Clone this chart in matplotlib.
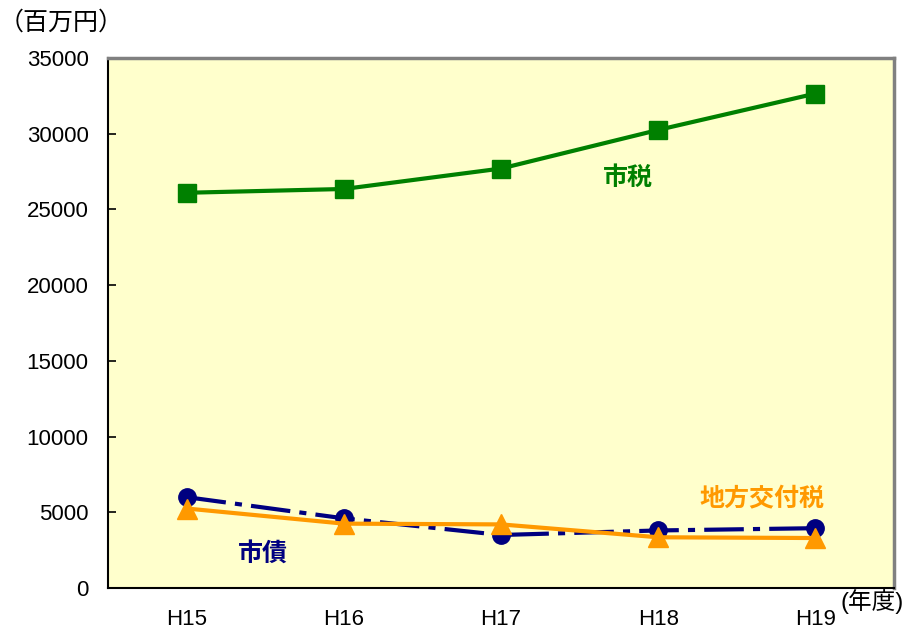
import matplotlib.pyplot as plt
import numpy as np

plt.rcParams['font.family'] = ['Liberation Sans', 'Noto Sans CJK JP', 'DejaVu Sans']

years = ['H15', 'H16', 'H17', 'H18', 'H19']
shizei = [26100, 26350, 27700, 30250, 32650]      # 市税
shisai = [6000, 4600, 3500, 3800, 3950]           # 市債
koufuzei = [5250, 4250, 4200, 3350, 3300]         # 地方交付税
yticks = [0, 5000, 10000, 15000, 20000, 25000, 30000, 35000]

GREEN = '#008000'
NAVY = '#000080'
ORANGE = '#FF9900'

fig = plt.figure(figsize=(9.12, 6.32), dpi=100)
ax = fig.add_axes([108 / 912, 44 / 632, (894 - 108) / 912, (588 - 58) / 632])
ax.set_facecolor('#FFFFCC')

x = np.arange(len(years))
ax.plot(x, shizei, color=GREEN, lw=3, marker='s', ms=13, mec=GREEN, zorder=3)
ax.plot(x, shisai, color=NAVY, lw=3, marker='o', ms=12.5, mec=NAVY,
        dashes=(9.5, 2.2, 1.7, 2.2), dash_capstyle='butt', zorder=3)
ax.plot(x, koufuzei, color=ORANGE, lw=3, marker='^', ms=14, mec=ORANGE, zorder=4)

ax.set_xlim(-0.5, len(years) - 0.5)
ax.set_ylim(0, 35000)
ax.set_xticks(x)
ax.set_xticklabels(years)
ax.set_yticks(yticks)
ax.tick_params(axis='x', length=0, pad=15, labelsize=16)
ax.tick_params(axis='y', direction='in', length=6, width=1.2, pad=14, labelsize=16)

for side in ('left', 'bottom'):
    ax.spines[side].set_color('black')
    ax.spines[side].set_linewidth(1.5)
for side in ('top', 'right'):
    ax.spines[side].set_color('#808080')
    ax.spines[side].set_linewidth(2.5)

jp = ['Noto Sans CJK JP', 'DejaVu Sans']
ax.text(2.81, 27050, '市税', color=GREEN, fontsize=18, fontweight='bold',
        family=jp, ha='center', va='center')
ax.text(3.66, 5880, '地方交付税', color=ORANGE, fontsize=18, fontweight='bold',
        family=jp, ha='center', va='center')
ax.text(0.484, 2250, '市債', color=NAVY, fontsize=18, fontweight='bold',
        family=jp, ha='center', va='center')

fig.text(61 / 912, 1 - 23 / 632, '（百万円）', fontsize=18, family=jp,
         ha='center', va='center')
fig.text(841 / 912, 1 - 602 / 632, '(年度)', fontsize=17,
         ha='left', va='center')

fig.savefig('out.png', dpi=100, facecolor='white')
